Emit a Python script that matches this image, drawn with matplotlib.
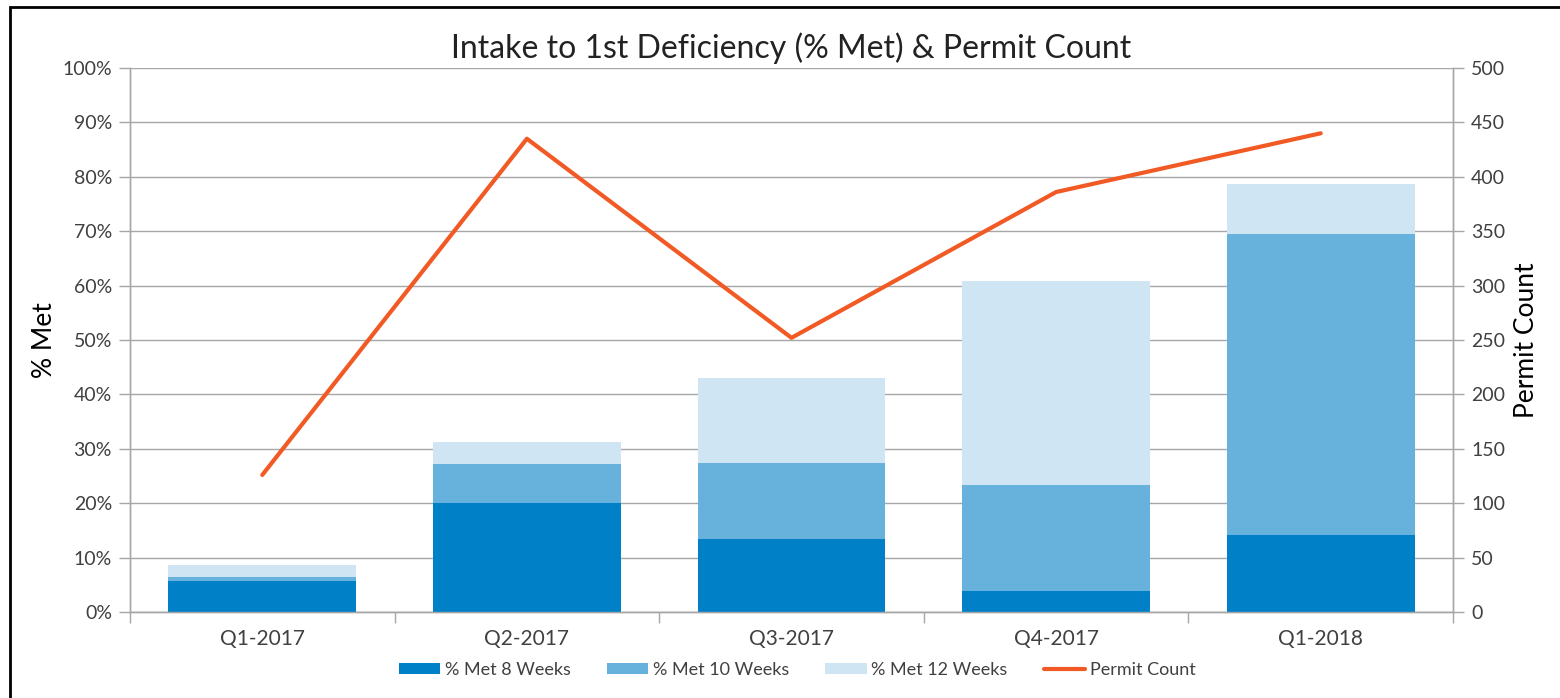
import matplotlib
matplotlib.use("Agg")
import matplotlib.pyplot as plt
import numpy as np
from matplotlib.patches import Rectangle
from matplotlib.ticker import FuncFormatter, FixedLocator

plt.rcParams['font.family'] = ['Lato', 'DejaVu Sans']

categories = ["Q1-2017", "Q2-2017", "Q3-2017", "Q4-2017", "Q1-2018"]
# cumulative % met (overlapping bars)
met_8 = [5.7, 20.0, 13.4, 3.9, 14.2]
met_10 = [6.4, 27.2, 27.4, 23.3, 69.5]
met_12 = [8.6, 31.2, 43.0, 60.8, 78.7]
permit_count = [126, 435, 252, 386, 440]

c8 = "#0080C6"
c10 = "#66B2DC"
c12 = "#CFE5F3"
cline = "#F15A24"
grid_c = "#A6A6A6"
text_c = "#404040"

fig = plt.figure(figsize=(15.6, 6.98), dpi=100)
ax = fig.add_axes([130/1560, 1-612/698, (1453-130)/1560, (612-68)/698])
ax2 = ax.twinx()

x = np.arange(len(categories))
w = 0.71
ax.bar(x, met_12, w, color=c12, label="% Met 12 Weeks", zorder=2)
ax.bar(x, met_10, w, color=c10, label="% Met 10 Weeks", zorder=3)
ax.bar(x, met_8, w, color=c8, label="% Met 8 Weeks", zorder=4)

ax2.plot(x, permit_count, color=cline, lw=3, label="Permit Count", solid_capstyle='round')

ax.set_xlim(-0.5, len(categories) - 0.5)
ax.set_ylim(0, 100)
ax2.set_ylim(0, 500)
ax.set_yticks(np.arange(0, 101, 10))
ax.yaxis.set_major_formatter(FuncFormatter(lambda v, p: f"{int(v)}%"))
ax2.set_yticks(np.arange(0, 501, 50))

ax.set_xticks(x)
ax.set_xticklabels(categories)
ax.xaxis.set_minor_locator(FixedLocator(np.arange(-0.5, len(categories), 1)))
ax.tick_params(axis='x', which='major', length=0, pad=12, labelsize=15, labelcolor=text_c)
ax.tick_params(axis='x', which='minor', length=8, width=1, color=grid_c, direction='out')
ax.tick_params(axis='y', length=8, width=1, color=grid_c, labelsize=14, labelcolor=text_c, pad=5)
ax2.tick_params(axis='y', length=8, width=1, color=grid_c, labelsize=14, labelcolor=text_c, pad=5)

ax.grid(axis='y', color=grid_c, lw=1, zorder=0)
ax.set_axisbelow(True)
for a in (ax, ax2):
    a.spines['top'].set_visible(False)
    for s in ('left', 'right', 'bottom'):
        a.spines[s].set_color(grid_c)
        a.spines[s].set_linewidth(1)

ax.set_ylabel("% Met", fontsize=19, color="black", labelpad=4)
ax2.set_ylabel("Permit Count", fontsize=19, color="black", labelpad=6)
ax.set_title("Intake to 1st Deficiency (% Met) & Permit Count", fontsize=23, color="#222222", pad=7)

h1, l1 = ax.get_legend_handles_labels()
h2, l2 = ax2.get_legend_handles_labels()
order = [2, 1, 0]
handles = [h1[i] for i in order] + h2
labels = [l1[i] for i in order] + l2
leg = fig.legend(handles, labels, loc='center', bbox_to_anchor=(797/1560, 1-670/698), ncol=4,
                 frameon=False, fontsize=13, handlelength=2.3, handleheight=0.55,
                 columnspacing=2.0, handletextpad=0.25)
for t in leg.get_texts():
    t.set_color(text_c)

fig.patches.append(Rectangle((10/1560, -0.01), 1.1, 1 - 7/698 + 0.01, transform=fig.transFigure,
                             fill=False, edgecolor='black', lw=2))

fig.savefig("out.png", dpi=100)
